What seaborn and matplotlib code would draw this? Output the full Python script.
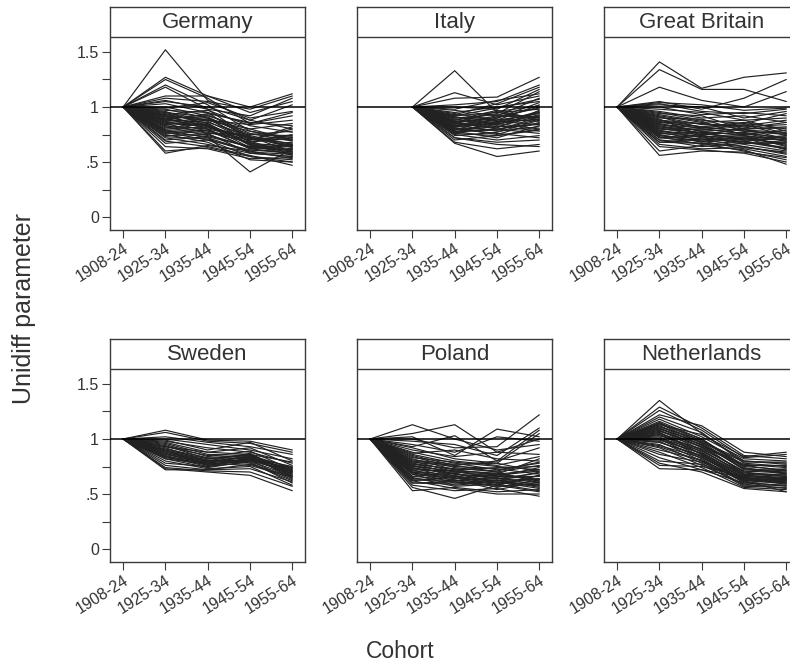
import numpy as np
import pandas as pd
import matplotlib
matplotlib.use("Agg")
import matplotlib.pyplot as plt
import seaborn as sns

nan = np.nan

COHORTS = ["1908-24", "1925-34", "1935-44", "1945-54", "1955-64"]
COUNTRIES = ["Germany", "Italy", "Great Britain", "Sweden", "Poland", "Netherlands"]
Y_TICKS = [0, 0.25, 0.5, 0.75, 1, 1.25, 1.5]
Y_TICK_LABELS = ["0", "", ".5", "", "1", "", "1.5"]

# Unidiff estimates per model specification, one row per specification
GERMANY = [
    [1, 1.52, 1.06, 0.88, 0.80],
    [1, 1.27, 1.10, 0.95, 1.05],
    [1, 1.25, 1.08, 0.85, 0.95],
    [1, 1.20, 1.02, 0.78, 0.70],
    [1, 1.18, 0.98, 0.72, 0.65],
    [1, 1.10, 1.10, 1.00, 1.12],
    [1, 1.08, 1.05, 0.98, 1.10],
    [1, 1.06, 0.98, 0.92, 1.08],
    [1, 1.05, 1.00, 0.88, 1.02],
    [1, 1.03, 0.95, 0.85, 0.92],
    [1, 1.00, 0.92, 0.80, 0.85],
    [1, 0.99, 1.04, 0.90, 0.96],
    [1, 0.98, 0.90, 0.75, 0.78],
    [1, 0.97, 0.95, 0.70, 0.82],
    [1, 0.96, 0.83, 0.71, 0.73],
    [1, 0.95, 0.88, 0.78, 0.72],
    [1, 0.95, 0.91, 0.73, 0.63],
    [1, 0.94, 0.85, 0.65, 0.60],
    [1, 0.93, 0.97, 0.83, 0.77],
    [1, 0.93, 0.87, 0.69, 0.71],
    [1, 0.92, 0.82, 0.72, 0.70],
    [1, 0.92, 0.88, 0.84, 0.88],
    [1, 0.91, 0.90, 0.68, 0.75],
    [1, 0.91, 0.83, 0.67, 0.64],
    [1, 0.90, 0.80, 0.62, 0.58],
    [1, 0.89, 0.93, 0.76, 0.69],
    [1, 0.89, 0.81, 0.73, 0.59],
    [1, 0.88, 0.86, 0.74, 0.66],
    [1, 0.88, 0.94, 0.86, 0.83],
    [1, 0.87, 0.78, 0.70, 0.80],
    [1, 0.87, 0.89, 0.71, 0.67],
    [1, 0.86, 0.84, 0.66, 0.62],
    [1, 0.85, 0.76, 0.58, 0.55],
    [1, 0.85, 0.83, 0.63, 0.61],
    [1, 0.84, 0.88, 0.80, 0.70],
    [1, 0.83, 0.80, 0.72, 0.64],
    [1, 0.83, 0.77, 0.68, 0.72],
    [1, 0.82, 0.74, 0.64, 0.68],
    [1, 0.81, 0.85, 0.66, 0.56],
    [1, 0.80, 0.82, 0.69, 0.57],
    [1, 0.79, 0.72, 0.60, 0.62],
    [1, 0.79, 0.79, 0.62, 0.65],
    [1, 0.78, 0.76, 0.75, 0.74],
    [1, 0.77, 0.70, 0.55, 0.52],
    [1, 0.77, 0.73, 0.64, 0.59],
    [1, 0.76, 0.79, 0.67, 0.60],
    [1, 0.75, 0.68, 0.52, 0.50],
    [1, 0.74, 0.75, 0.63, 0.66],
    [1, 0.73, 0.71, 0.59, 0.57],
    [1, 0.72, 0.66, 0.58, 0.55],
    [1, 0.70, 0.73, 0.41, 0.62],
    [1, 0.69, 0.64, 0.56, 0.47],
    [1, 0.67, 0.70, 0.61, 0.58],
    [1, 0.64, 0.62, 0.53, 0.54],
    [1, 0.60, 0.63, 0.55, 0.50],
    [1, 0.58, 0.65, 0.60, 0.53],
]

ITALY = [
    [nan, 1, 1.33, 0.95, 0.90],
    [nan, 1, 1.13, 1.02, 1.10],
    [nan, 1, 1.08, 1.09, 1.27],
    [nan, 1, 1.02, 1.05, 1.20],
    [nan, 1, 1.00, 0.98, 1.16],
    [nan, 1, 0.98, 1.06, 1.12],
    [nan, 1, 0.97, 0.92, 1.08],
    [nan, 1, 0.95, 1.00, 1.05],
    [nan, 1, 0.94, 0.88, 1.02],
    [nan, 1, 0.93, 1.03, 1.18],
    [nan, 1, 0.92, 0.95, 0.98],
    [nan, 1, 0.92, 0.99, 1.07],
    [nan, 1, 0.91, 0.84, 0.95],
    [nan, 1, 0.91, 0.87, 0.84],
    [nan, 1, 0.90, 0.90, 1.00],
    [nan, 1, 0.90, 0.93, 0.91],
    [nan, 1, 0.89, 0.82, 0.92],
    [nan, 1, 0.88, 0.97, 0.88],
    [nan, 1, 0.88, 0.94, 1.14],
    [nan, 1, 0.87, 0.86, 0.96],
    [nan, 1, 0.87, 0.89, 0.87],
    [nan, 1, 0.86, 0.80, 0.85],
    [nan, 1, 0.86, 0.96, 1.01],
    [nan, 1, 0.85, 0.92, 0.90],
    [nan, 1, 0.85, 0.81, 0.97],
    [nan, 1, 0.85, 0.84, 0.93],
    [nan, 1, 0.84, 0.78, 0.82],
    [nan, 1, 0.83, 0.88, 0.94],
    [nan, 1, 0.83, 0.91, 0.99],
    [nan, 1, 0.82, 0.85, 0.80],
    [nan, 1, 0.82, 0.86, 0.89],
    [nan, 1, 0.81, 0.75, 0.86],
    [nan, 1, 0.81, 0.79, 0.89],
    [nan, 1, 0.80, 0.83, 0.78],
    [nan, 1, 0.80, 0.76, 0.72],
    [nan, 1, 0.79, 0.90, 1.04],
    [nan, 1, 0.79, 0.82, 0.84],
    [nan, 1, 0.78, 0.72, 0.83],
    [nan, 1, 0.78, 0.79, 0.91],
    [nan, 1, 0.77, 0.80, 0.76],
    [nan, 1, 0.77, 0.87, 0.95],
    [nan, 1, 0.76, 0.86, 0.92],
    [nan, 1, 0.76, 0.74, 0.79],
    [nan, 1, 0.75, 0.70, 0.74],
    [nan, 1, 0.74, 0.77, 0.88],
    [nan, 1, 0.72, 0.68, 0.70],
    [nan, 1, 0.72, 0.66, 0.64],
    [nan, 1, 0.70, 0.74, 0.80],
    [nan, 1, 0.68, 0.62, 0.66],
    [nan, 1, 0.67, 0.55, 0.60],
]

GREAT_BRITAIN = [
    [1, 1.41, 1.17, 1.27, 1.31],
    [1, 1.34, 1.16, 1.16, 1.05],
    [1, 1.18, 1.06, 1.00, 1.14],
    [1, 1.05, 0.98, 1.08, 1.25],
    [1, 1.04, 1.02, 0.97, 0.99],
    [1, 1.03, 0.96, 0.94, 0.98],
    [1, 1.02, 1.00, 0.90, 0.96],
    [1, 1.00, 0.93, 0.95, 0.92],
    [1, 0.98, 0.95, 0.88, 0.90],
    [1, 0.96, 0.90, 0.92, 0.86],
    [1, 0.95, 0.88, 0.85, 0.94],
    [1, 0.94, 0.92, 0.80, 0.82],
    [1, 0.93, 0.87, 0.74, 0.69],
    [1, 0.92, 0.86, 0.88, 0.78],
    [1, 0.91, 0.84, 0.83, 0.88],
    [1, 0.91, 0.81, 0.85, 0.76],
    [1, 0.90, 0.89, 0.78, 0.75],
    [1, 0.89, 0.74, 0.81, 0.86],
    [1, 0.88, 0.82, 0.86, 0.80],
    [1, 0.88, 0.85, 0.80, 0.81],
    [1, 0.87, 0.80, 0.76, 0.72],
    [1, 0.86, 0.85, 0.82, 0.84],
    [1, 0.86, 0.82, 0.78, 0.76],
    [1, 0.85, 0.78, 0.74, 0.70],
    [1, 0.84, 0.81, 0.79, 0.77],
    [1, 0.84, 0.78, 0.80, 0.71],
    [1, 0.83, 0.76, 0.72, 0.66],
    [1, 0.82, 0.79, 0.84, 0.74],
    [1, 0.82, 0.76, 0.71, 0.74],
    [1, 0.81, 0.74, 0.70, 0.68],
    [1, 0.80, 0.77, 0.75, 0.79],
    [1, 0.80, 0.80, 0.76, 0.69],
    [1, 0.79, 0.72, 0.68, 0.62],
    [1, 0.78, 0.75, 0.77, 0.71],
    [1, 0.78, 0.73, 0.74, 0.64],
    [1, 0.77, 0.70, 0.73, 0.65],
    [1, 0.76, 0.73, 0.66, 0.60],
    [1, 0.76, 0.77, 0.70, 0.71],
    [1, 0.75, 0.68, 0.71, 0.73],
    [1, 0.74, 0.71, 0.64, 0.57],
    [1, 0.74, 0.69, 0.72, 0.61],
    [1, 0.73, 0.66, 0.69, 0.63],
    [1, 0.72, 0.69, 0.62, 0.55],
    [1, 0.72, 0.74, 0.67, 0.68],
    [1, 0.70, 0.64, 0.67, 0.67],
    [1, 0.70, 0.67, 0.64, 0.58],
    [1, 0.68, 0.67, 0.60, 0.52],
    [1, 0.68, 0.71, 0.69, 0.62],
    [1, 0.66, 0.62, 0.63, 0.59],
    [1, 0.64, 0.61, 0.58, 0.50],
    [1, 0.60, 0.65, 0.61, 0.48],
    [1, 0.56, 0.60, 0.59, 0.54],
]

SWEDEN = [
    [1, 1.08, 0.99, 0.98, 0.90],
    [1, 1.06, 0.98, 0.96, 0.88],
    [1, 1.02, 0.97, 0.93, 0.86],
    [1, 1.00, 0.95, 0.90, 0.82],
    [1, 0.99, 0.90, 0.97, 0.80],
    [1, 0.98, 0.92, 0.88, 0.78],
    [1, 0.97, 0.88, 0.92, 0.76],
    [1, 0.96, 0.86, 0.85, 0.74],
    [1, 0.95, 0.84, 0.89, 0.72],
    [1, 0.94, 0.82, 0.86, 0.70],
    [1, 0.93, 0.85, 0.83, 0.75],
    [1, 0.93, 0.88, 0.86, 0.79],
    [1, 0.92, 0.80, 0.87, 0.68],
    [1, 0.91, 0.83, 0.82, 0.73],
    [1, 0.90, 0.79, 0.84, 0.66],
    [1, 0.90, 0.76, 0.81, 0.74],
    [1, 0.90, 0.82, 0.85, 0.71],
    [1, 0.89, 0.81, 0.80, 0.71],
    [1, 0.88, 0.78, 0.85, 0.64],
    [1, 0.88, 0.80, 0.83, 0.72],
    [1, 0.87, 0.77, 0.81, 0.69],
    [1, 0.86, 0.80, 0.78, 0.62],
    [1, 0.86, 0.78, 0.82, 0.68],
    [1, 0.85, 0.76, 0.83, 0.67],
    [1, 0.84, 0.75, 0.79, 0.60],
    [1, 0.84, 0.79, 0.84, 0.70],
    [1, 0.83, 0.78, 0.76, 0.65],
    [1, 0.82, 0.74, 0.80, 0.63],
    [1, 0.82, 0.77, 0.80, 0.66],
    [1, 0.80, 0.73, 0.75, 0.58],
    [1, 0.78, 0.75, 0.82, 0.70],
    [1, 0.76, 0.72, 0.73, 0.61],
    [1, 0.74, 0.71, 0.70, 0.57],
    [1, 0.73, 0.70, 0.67, 0.53],
    [1, 0.72, 0.72, 0.77, 0.66],
]

POLAND = [
    [1, 1.13, 1.00, 0.90, 0.95],
    [1, 1.05, 1.13, 0.88, 1.00],
    [1, 1.02, 0.85, 1.09, 1.02],
    [1, 1.00, 0.92, 0.93, 1.22],
    [1, 0.98, 0.95, 0.85, 1.10],
    [1, 0.95, 0.88, 1.02, 0.98],
    [1, 0.93, 1.03, 0.80, 1.08],
    [1, 0.92, 0.82, 0.78, 1.05],
    [1, 0.90, 0.84, 0.88, 0.86],
    [1, 0.88, 0.80, 0.76, 0.84],
    [1, 0.87, 0.90, 0.82, 0.80],
    [1, 0.86, 0.78, 0.72, 0.78],
    [1, 0.85, 0.76, 0.80, 0.92],
    [1, 0.84, 0.74, 0.70, 0.76],
    [1, 0.83, 0.79, 0.75, 0.72],
    [1, 0.82, 0.72, 0.68, 0.82],
    [1, 0.81, 0.77, 0.78, 0.70],
    [1, 0.80, 0.70, 0.66, 0.74],
    [1, 0.80, 0.76, 0.70, 0.60],
    [1, 0.79, 0.75, 0.73, 0.68],
    [1, 0.78, 0.68, 0.64, 0.66],
    [1, 0.78, 0.72, 0.74, 0.75],
    [1, 0.77, 0.73, 0.71, 0.79],
    [1, 0.76, 0.66, 0.62, 0.64],
    [1, 0.76, 0.70, 0.68, 0.72],
    [1, 0.75, 0.71, 0.69, 0.62],
    [1, 0.74, 0.64, 0.67, 0.71],
    [1, 0.74, 0.68, 0.66, 0.66],
    [1, 0.73, 0.69, 0.60, 0.60],
    [1, 0.72, 0.62, 0.65, 0.58],
    [1, 0.72, 0.71, 0.64, 0.69],
    [1, 0.71, 0.67, 0.58, 0.67],
    [1, 0.70, 0.60, 0.63, 0.56],
    [1, 0.70, 0.66, 0.68, 0.63],
    [1, 0.69, 0.65, 0.56, 0.63],
    [1, 0.68, 0.58, 0.61, 0.55],
    [1, 0.68, 0.64, 0.62, 0.70],
    [1, 0.66, 0.63, 0.54, 0.61],
    [1, 0.66, 0.69, 0.60, 0.64],
    [1, 0.65, 0.57, 0.59, 0.53],
    [1, 0.64, 0.62, 0.64, 0.61],
    [1, 0.63, 0.61, 0.57, 0.59],
    [1, 0.62, 0.55, 0.50, 0.50],
    [1, 0.62, 0.66, 0.58, 0.67],
    [1, 0.60, 0.59, 0.62, 0.57],
    [1, 0.60, 0.61, 0.60, 0.58],
    [1, 0.58, 0.53, 0.55, 0.48],
    [1, 0.56, 0.46, 0.58, 0.52],
    [1, 0.53, 0.56, 0.52, 0.54],
]

NETHERLANDS = [
    [1, 1.35, 1.05, 0.80, 0.78],
    [1, 1.29, 1.10, 0.85, 0.82],
    [1, 1.26, 1.08, 0.83, 0.86],
    [1, 1.22, 1.12, 0.88, 0.84],
    [1, 1.20, 1.06, 0.78, 0.75],
    [1, 1.18, 1.02, 0.82, 0.80],
    [1, 1.16, 1.00, 0.75, 0.72],
    [1, 1.15, 0.98, 0.80, 0.77],
    [1, 1.14, 0.96, 0.72, 0.70],
    [1, 1.14, 1.00, 0.76, 0.71],
    [1, 1.13, 1.04, 0.84, 0.88],
    [1, 1.12, 0.94, 0.77, 0.74],
    [1, 1.12, 0.97, 0.73, 0.69],
    [1, 1.11, 0.99, 0.74, 0.68],
    [1, 1.10, 0.92, 0.70, 0.73],
    [1, 1.10, 0.95, 0.68, 0.68],
    [1, 1.09, 0.97, 0.79, 0.79],
    [1, 1.08, 0.90, 0.68, 0.66],
    [1, 1.08, 0.93, 0.70, 0.66],
    [1, 1.07, 0.95, 0.73, 0.71],
    [1, 1.06, 0.88, 0.66, 0.64],
    [1, 1.06, 0.86, 0.62, 0.65],
    [1, 1.05, 0.93, 0.76, 0.76],
    [1, 1.04, 0.86, 0.64, 0.62],
    [1, 1.04, 0.90, 0.67, 0.64],
    [1, 1.03, 0.91, 0.71, 0.69],
    [1, 1.02, 0.84, 0.62, 0.60],
    [1, 1.01, 0.89, 0.69, 0.67],
    [1, 1.00, 0.82, 0.60, 0.63],
    [1, 1.00, 0.87, 0.65, 0.62],
    [1, 0.99, 0.87, 0.67, 0.65],
    [1, 0.98, 0.80, 0.58, 0.58],
    [1, 0.97, 0.85, 0.65, 0.61],
    [1, 0.97, 0.84, 0.63, 0.61],
    [1, 0.95, 0.78, 0.57, 0.56],
    [1, 0.94, 0.83, 0.63, 0.59],
    [1, 0.93, 0.80, 0.64, 0.63],
    [1, 0.92, 0.76, 0.59, 0.55],
    [1, 0.90, 0.81, 0.61, 0.57],
    [1, 0.88, 0.74, 0.56, 0.54],
    [1, 0.86, 0.79, 0.62, 0.52],
    [1, 0.83, 0.72, 0.60, 0.58],
    [1, 0.80, 0.77, 0.64, 0.60],
    [1, 0.78, 0.70, 0.55, 0.52],
    [1, 0.76, 0.75, 0.66, 0.63],
    [1, 0.73, 0.72, 0.65, 0.60],
]

SERIES = {
    "Germany": GERMANY,
    "Italy": ITALY,
    "Great Britain": GREAT_BRITAIN,
    "Sweden": SWEDEN,
    "Poland": POLAND,
    "Netherlands": NETHERLANDS,
}

# Long-form table: one row per (country, specification, cohort)
records = []
for country, rows in SERIES.items():
    for spec, vals in enumerate(rows):
        for pos, v in enumerate(vals):
            if not np.isnan(v):
                records.append({"country": country, "spec": spec,
                                "pos": pos, "value": v})
df = pd.DataFrame(records)

sns.set_theme(style="white")
plt.rcParams["font.family"] = ["Liberation Sans", "DejaVu Sans"]

FRAME = "#3a3a3a"
LINE = "#222222"
TEXT = "#333333"

fig = plt.figure(figsize=(7.9, 6.68), dpi=100)

W, H = 790, 668
col_left = [110, 357, 604]
panel_w = 195
row_top = [7, 339]
panel_h = 223

Y_LO, Y_HI = -0.118, 1.909
STRIP_Y = 1.636

for i, country in enumerate(COUNTRIES):
    r, c = divmod(i, 3)
    left = col_left[c] / W
    bottom = 1 - (row_top[r] + panel_h) / H
    ax = fig.add_axes([left, bottom, panel_w / W, panel_h / H])
    sub = df[df["country"] == country]
    sns.lineplot(data=sub, x="pos", y="value", units="spec", estimator=None,
                 color=LINE, linewidth=0.85, ax=ax, legend=False)
    ax.axhline(1, color="black", linewidth=1.1, zorder=5)
    ax.axhline(STRIP_Y, color=FRAME, linewidth=1.0, zorder=6)
    ax.text(2.0, (STRIP_Y + Y_HI) / 2, country, ha="center", va="center",
            fontsize=16, color=TEXT)
    ax.set_xlim(-0.31, 4.3)
    ax.set_ylim(Y_LO, Y_HI)
    ax.set_xlabel("")
    ax.set_ylabel("")
    ax.set_xticks(range(len(COHORTS)))
    ax.set_xticklabels(COHORTS, rotation=32, ha="right",
                       rotation_mode="anchor", fontsize=11.5, color=TEXT)
    if c == 0:
        ax.set_yticks(Y_TICKS)
        ax.set_yticklabels(Y_TICK_LABELS, fontsize=11.5, color=TEXT)
        ax.tick_params(axis="y", left=True, length=6, width=0.8,
                       color=FRAME, pad=2)
    else:
        ax.set_yticks([])
    ax.tick_params(axis="x", bottom=True, length=6, width=0.8,
                   color=FRAME, pad=2)
    for s in ax.spines.values():
        s.set_color(FRAME)
        s.set_linewidth(1.0)
        s.set_visible(True)

fig.text(24 / W, 1 - 308 / H, "Unidiff parameter", rotation=90,
         ha="center", va="center", fontsize=18, color=TEXT)
fig.text(400 / W, 1 - 652 / H, "Cohort", ha="center", va="center",
         fontsize=16.5, color=TEXT)

fig.savefig("out.png", dpi=100, facecolor="white")
